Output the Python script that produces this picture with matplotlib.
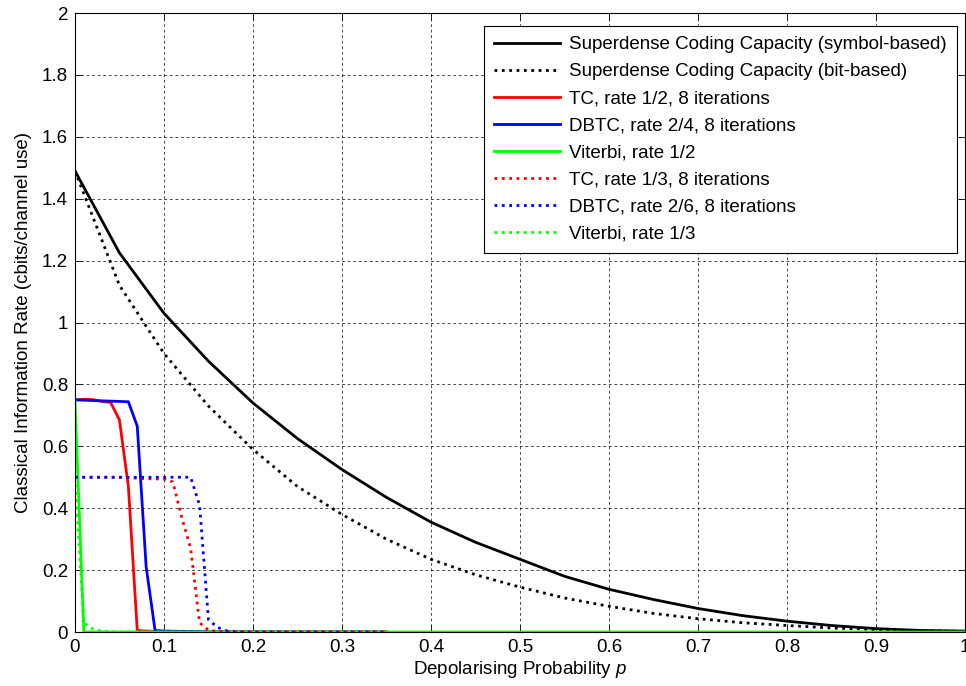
import matplotlib
matplotlib.use('Agg')
import matplotlib.pyplot as plt
from matplotlib.ticker import FormatStrFormatter

plt.rcParams['font.family'] = ['Liberation Sans', 'DejaVu Sans']
plt.rcParams['mathtext.fontset'] = 'custom'
plt.rcParams['mathtext.it'] = 'Liberation Sans:italic'

# capacity curves, sampled every 0.05
p_cap = [0.0, 0.05, 0.1, 0.15, 0.2, 0.25, 0.3, 0.35, 0.4, 0.45, 0.5,
         0.55, 0.6, 0.65, 0.7, 0.75, 0.8, 0.85, 0.9, 0.95, 1.0]
cap_symbol = [1.49, 1.225, 1.03, 0.875, 0.74, 0.625, 0.525, 0.435, 0.355, 0.29, 0.235,
              0.18, 0.138, 0.105, 0.076, 0.053, 0.035, 0.021, 0.011, 0.005, 0.003]
cap_bit = [1.49, 1.12, 0.90, 0.73, 0.59, 0.47, 0.38, 0.30, 0.235, 0.185, 0.145,
           0.11, 0.083, 0.06, 0.043, 0.03, 0.021, 0.013, 0.008, 0.004, 0.002]

# code curves
p_tc12 = [0.0, 0.01, 0.02, 0.03, 0.04, 0.05, 0.06, 0.07, 0.08, 0.09, 0.1, 0.15, 0.2, 0.25, 0.3, 0.35]
tc12 = [0.75, 0.752, 0.751, 0.745, 0.742, 0.685, 0.47, 0.005, 0.003, 0.002, 0.001, 0.0, 0.0, 0.0, 0.0, 0.0]

p_dbtc24 = [0.0, 0.01, 0.02, 0.03, 0.04, 0.05, 0.06, 0.07, 0.08, 0.09, 0.1, 0.15, 0.2, 0.25, 0.3, 0.35]
dbtc24 = [0.75, 0.749, 0.748, 0.747, 0.746, 0.745, 0.744, 0.665, 0.21, 0.005, 0.003, 0.001, 0.0, 0.0, 0.0, 0.0]

p_vit12 = [0.0, 0.01, 0.02, 0.05, 0.1, 0.2, 0.3, 0.4, 0.5, 0.6, 0.7, 0.8, 0.9, 1.0]
vit12 = [0.75, 0.0, 0.0, 0.0, 0.0, 0.0, 0.0, 0.0, 0.0, 0.0, 0.0, 0.0, 0.0, 0.0]

p_tc13 = [0.0, 0.05, 0.07, 0.08, 0.09, 0.1, 0.11, 0.12, 0.13, 0.14, 0.15, 0.16, 0.17, 0.2, 0.25, 0.3, 0.35]
tc13 = [0.5, 0.5, 0.497, 0.495, 0.495, 0.494, 0.485, 0.37, 0.27, 0.03, 0.006, 0.002, 0.001, 0.0, 0.0, 0.0, 0.0]

p_dbtc26 = [0.0, 0.05, 0.1, 0.11, 0.12, 0.13, 0.14, 0.15, 0.16, 0.17, 0.18, 0.2, 0.25, 0.3, 0.35]
dbtc26 = [0.5, 0.5, 0.5, 0.5, 0.5, 0.5, 0.41, 0.04, 0.015, 0.004, 0.001, 0.0, 0.0, 0.0, 0.0]

p_vit13 = [0.0, 0.01, 0.02, 0.03, 0.05, 0.1, 0.2, 0.3, 0.35]
vit13 = [0.5, 0.03, 0.01, 0.003, 0.0, 0.0, 0.0, 0.0, 0.0]

fig = plt.figure(figsize=(9.66, 6.86), dpi=100)
ax = fig.add_axes([0.0776, 0.0787, 0.9214, 0.9023])

lw = 2.0
ax.plot(p_cap, cap_symbol, '-', color='k', lw=lw, label='Superdense Coding Capacity (symbol-based)')
ax.plot(p_cap, cap_bit, ':', color='k', lw=lw, label='Superdense Coding Capacity (bit-based)')
ax.plot(p_tc12, tc12, '-', color='#ff0000', lw=lw, label='TC, rate 1/2, 8 iterations')
ax.plot(p_dbtc24, dbtc24, '-', color='#0000ff', lw=lw, label='DBTC, rate 2/4, 8 iterations')
ax.plot(p_vit12, vit12, '-', color='#00ff00', lw=lw, label='Viterbi, rate 1/2')
ax.plot(p_tc13, tc13, ':', color='#ff0000', lw=lw, label='TC, rate 1/3, 8 iterations')
ax.plot(p_dbtc26, dbtc26, ':', color='#0000ff', lw=lw, label='DBTC, rate 2/6, 8 iterations')
ax.plot(p_vit13, vit13, ':', color='#00ff00', lw=lw, label='Viterbi, rate 1/3')

fs = 13.5
ax.set_xlim(0, 1)
ax.set_ylim(0, 2)
ax.set_xticks([i / 10 for i in range(11)])
ax.set_yticks([i / 5 for i in range(11)])
ax.xaxis.set_major_formatter(FormatStrFormatter('%g'))
ax.yaxis.set_major_formatter(FormatStrFormatter('%g'))
ax.tick_params(direction='in', length=5, width=0.6, labelsize=fs, top=True, right=True, pad=5)
for s in ax.spines.values():
    s.set_linewidth(0.8)
ax.grid(True, color='k', linestyle=(0, (4, 4)), linewidth=0.5)

ax.set_xlabel('Depolarising Probability $p$', fontsize=fs, labelpad=2)
ax.set_ylabel('Classical Information Rate (cbits/channel use)', fontsize=fs, labelpad=7)

leg = ax.legend(loc='upper right', bbox_to_anchor=(957 / 966, 1 - 26 / 686),
                bbox_transform=fig.transFigure, fontsize=fs, handlelength=3.5,
                fancybox=False, framealpha=1, edgecolor='k', borderaxespad=0,
                labelspacing=0.53, handletextpad=0.5, borderpad=0.55)
leg.get_frame().set_linewidth(0.8)

fig.savefig('out.png', dpi=100)
